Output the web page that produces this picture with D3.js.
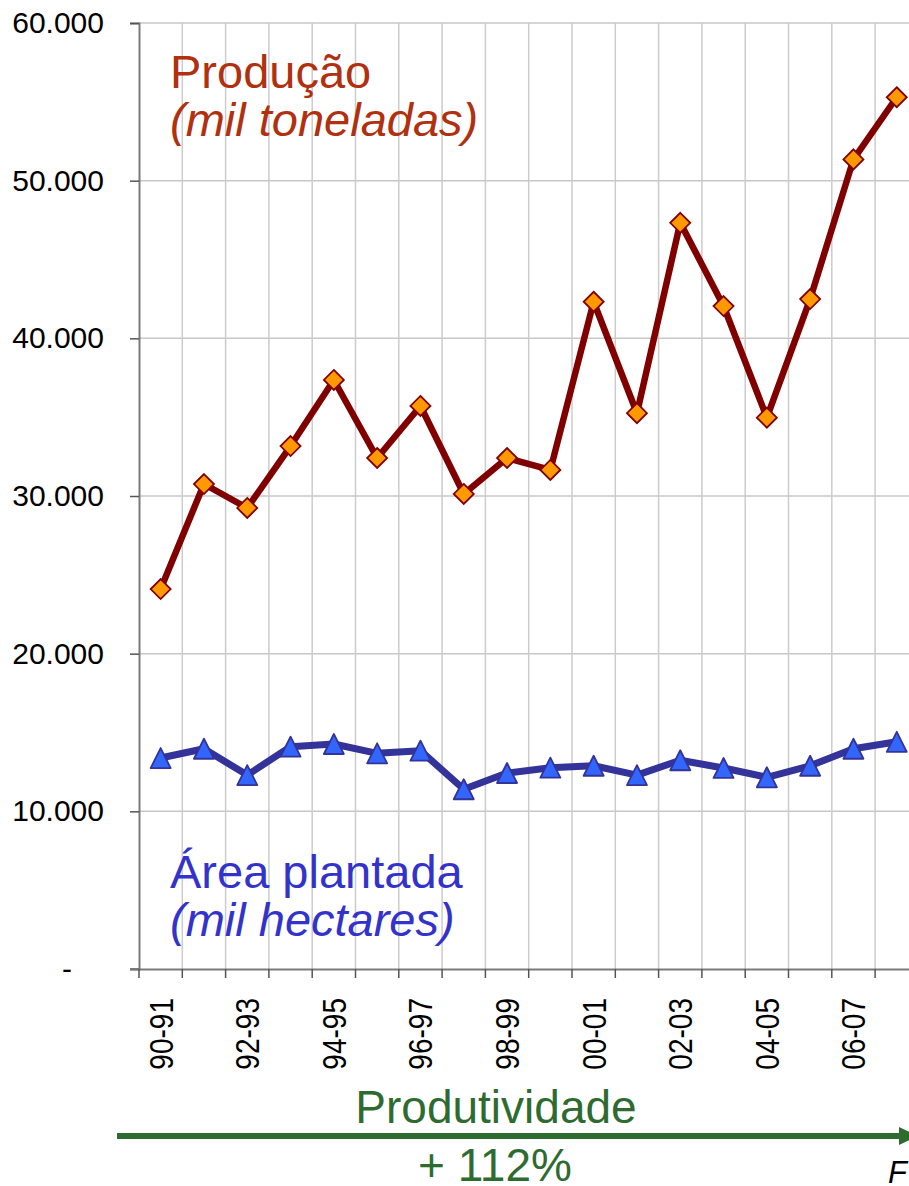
<!DOCTYPE html>
<html>
<head>
<meta charset="utf-8">
<script src="https://cdn.jsdelivr.net/npm/d3@7"></script>
<style>
  html, body { margin: 0; padding: 0; background: #ffffff; }
  svg { display: block; font-family: "Liberation Sans", Arial, sans-serif; }
</style>
</head>
<body>
<svg id="chart" width="909" height="1186"></svg>
<script>
// ---- data ----
const categories = ["90-91","91-92","92-93","93-94","94-95","95-96","96-97","97-98","98-99","99-00",
                    "00-01","01-02","02-03","03-04","04-05","05-06","06-07","07-08"];
const producao = [24100, 30760, 29240, 33170, 37360, 32410, 35710, 30130, 32410, 31650,
                  42320, 35250, 47330, 42050, 34970, 42490, 51350, 55290];
const area = [13380, 13970, 12300, 14100, 14270, 13680, 13850, 11400, 12430, 12770,
              12890, 12300, 13240, 12750, 12160, 12890, 13970, 14410];
const yTicks = [0, 10000, 20000, 30000, 40000, 50000, 60000];
const xTickLabels = ["90-91","92-93","94-95","96-97","98-99","00-01","02-03","04-05","06-07"];

(function () {
// ---- layout ----
const svg = d3.select("#chart");
const plotLeft = 139, plotTop = 23, plotBottom = 969, bandW = 43.3;
const plotRight = plotLeft + bandW * categories.length;

const x = d3.scaleBand().domain(categories).range([plotLeft, plotRight]).padding(0);
const y = d3.scaleLinear().domain([0, 60000]).range([plotBottom, plotTop]);
const cx = d => x(d) + x.bandwidth() / 2;

// gridlines
const grid = svg.append("g");
grid.selectAll("line.h").data(yTicks.filter(v => v > 0)).join("line")
  .attr("x1", plotLeft).attr("x2", plotRight)
  .attr("y1", d => y(d)).attr("y2", d => y(d))
  .attr("stroke", "#c8c8c8").attr("stroke-width", 1.5);
grid.selectAll("line.v").data(categories.slice(1)).join("line")
  .attr("x1", d => x(d)).attr("x2", d => x(d))
  .attr("y1", plotTop).attr("y2", plotBottom)
  .attr("stroke", "#cccccc").attr("stroke-width", 1.5);

// y axis
const yAxis = d3.axisLeft(y).tickValues(yTicks).tickSize(9).tickPadding(26)
  .tickFormat(v => v === 0 ? "-" : d3.format(",")(v).replace(/,/g, "."));
const gy = svg.append("g").attr("transform", `translate(${plotLeft},0)`).call(yAxis);
gy.select(".domain").attr("stroke", "#7a7a7a").attr("stroke-width", 2);
gy.selectAll(".tick line").attr("stroke", "#555").attr("stroke-width", 1.5);
gy.selectAll(".tick text").attr("font-size", 30).attr("fill", "#000")
  .attr("font-family", "'Liberation Sans', Arial, sans-serif");
gy.selectAll(".tick text").filter(v => v === 0).attr("x", -67);

// x axis
const xAxis = d3.axisBottom(x).tickValues([]).tickSize(0);
const gx = svg.append("g").attr("transform", `translate(0,${plotBottom})`).call(xAxis);
gx.select(".domain").attr("stroke", "#7a7a7a").attr("stroke-width", 2);
svg.append("line").attr("x1", plotLeft - 9).attr("x2", plotLeft).attr("y1", plotBottom).attr("y2", plotBottom)
  .attr("stroke", "#7a7a7a").attr("stroke-width", 2);
svg.append("g").selectAll("line").data(d3.range(categories.length + 1)).join("line")
  .attr("x1", i => plotLeft + i * x.bandwidth()).attr("x2", i => plotLeft + i * x.bandwidth())
  .attr("y1", plotBottom).attr("y2", plotBottom + 9)
  .attr("stroke", "#555").attr("stroke-width", 1.5);
svg.append("g").selectAll("text").data(xTickLabels).join("text")
  .attr("transform", d => `translate(${cx(d)},998) rotate(-90) scale(0.85,1)`)
  .attr("text-anchor", "end").attr("dy", "0.36em")
  .attr("font-size", 33).attr("fill", "#000")
  .text(d => d);

// lines
const line = d3.line().x((d, i) => cx(categories[i])).y(d => y(d));
svg.append("path").datum(producao).attr("d", line)
  .attr("fill", "none").attr("stroke", "#800000").attr("stroke-width", 6.5)
  .attr("stroke-linejoin", "round");
svg.append("path").datum(area).attr("d", line)
  .attr("fill", "none").attr("stroke", "#333399").attr("stroke-width", 7)
  .attr("stroke-linejoin", "round");

// markers
const dh = 10;
svg.append("g").selectAll("path").data(producao).join("path")
  .attr("transform", (d, i) => `translate(${cx(categories[i])},${y(d)})`)
  .attr("d", `M0,${-dh}L${dh},0L0,${dh}L${-dh},0Z`)
  .attr("fill", "#ff9900").attr("stroke", "#800000").attr("stroke-width", 1.8);
const tw = 10, th = 10;
svg.append("g").selectAll("path").data(area).join("path")
  .attr("transform", (d, i) => `translate(${cx(categories[i])},${y(d)})`)
  .attr("d", `M0,${-th}L${tw},${th}L${-tw},${th}Z`)
  .attr("fill", "#3366ff").attr("stroke", "#333399").attr("stroke-width", 1.8)
  .attr("stroke-linejoin", "round");

// annotations
const ann = svg.append("g").attr("font-size", 47);
ann.append("text").attr("x", 170).attr("y", 88).attr("fill", "#b0300f").text("Produção");
ann.append("text").attr("x", 170).attr("y", 136).attr("fill", "#b0300f")
  .attr("font-style", "italic").text("(mil toneladas)");
ann.append("text").attr("x", 170).attr("y", 888).attr("fill", "#3333cc").text("Área plantada");
ann.append("text").attr("x", 170).attr("y", 936).attr("fill", "#3333cc")
  .attr("font-style", "italic").text("(mil hectares)");

// productivity arrow
const green = "#2e6b30";
svg.append("line").attr("x1", 117).attr("x2", 902).attr("y1", 1136).attr("y2", 1136)
  .attr("stroke", green).attr("stroke-width", 6);
svg.append("path").attr("d", "M899,1127L918,1136L899,1145Z").attr("fill", green);
svg.append("text").attr("x", 496).attr("y", 1123).attr("text-anchor", "middle")
  .attr("font-size", 46).attr("fill", green).text("Produtividade");
svg.append("text").attr("x", 495).attr("y", 1181).attr("text-anchor", "middle")
  .attr("font-size", 46).attr("fill", green).text("+ 112%");
svg.append("text").attr("x", 888).attr("y", 1183).attr("font-size", 31)
  .attr("font-style", "italic").attr("fill", "#000").text("F");
})();
</script>
</body>
</html>
